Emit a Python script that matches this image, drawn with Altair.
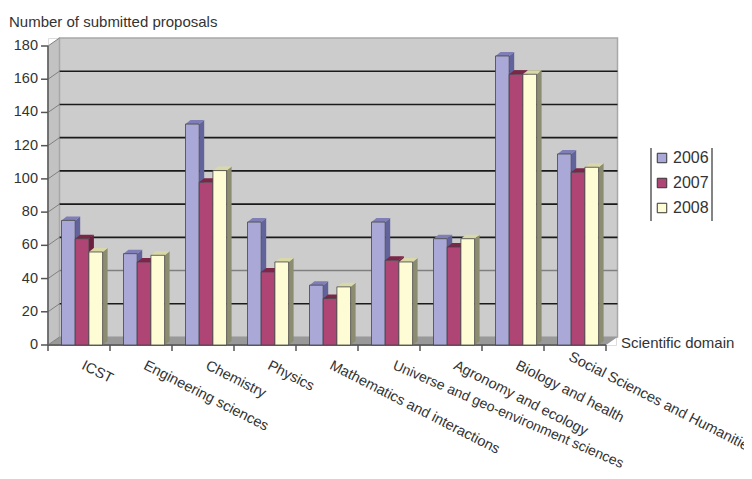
import altair as alt
import pandas as pd

categories = ["ICST", "Engineering sciences", "Chemistry", "Physics",
              "Mathematics and interactions", "Universe and geo-environment sciences",
              "Agronomy and ecology", "Biology and health", "Social Sciences and Humanities"]
years = ["2006", "2007", "2008"]
v2006 = [75, 55, 133, 74, 36, 74, 64, 174, 115]
v2007 = [64, 50, 98, 44, 28, 51, 59, 163, 104]
v2008 = [56, 54, 105, 50, 35, 50, 64, 163, 107]
series = {"2006": v2006, "2007": v2007, "2008": v2008}
front = ["#aaa8d6", "#ae4575", "#fdfcd4"]
side = ["#62639a", "#6b2040", "#8c8c70"]
top = ["#7f7eb6", "#7c2649", "#d9d8a8"]
y_ticks = list(range(0, 181, 20))

FONT = "Liberation Sans"
TXT = "#333333"
BAND_PX, UNIT_PX = 62.0, 299 / 180
W, H = 568, 307
n = len(categories)
xs = alt.Scale(domain=[0, W / BAND_PX], nice=False, zero=False, padding=0)
ys = alt.Scale(domain=[0, H / UNIT_PX], nice=False, zero=False, padding=0)
DXW, DYW = 11.5 / BAND_PX, 8 / UNIT_PX
DX, DY = 5 / BAND_PX, 4 / UNIT_PX
BAR = 13.7 / BAND_PX
START = 13.5 / BAND_PX


def X(f="x"):
    return alt.X(f"{f}:Q", scale=xs, axis=None)


def Y(f="y"):
    return alt.Y(f"{f}:Q", scale=ys, axis=None)


def area(df, color):
    return alt.Chart(df).mark_area(color=color, stroke=None, interpolate="linear").encode(
        x=X(), y=Y(), y2="y2:Q", detail="id:N")


def note(text, x, y):
    return alt.Chart(pd.DataFrame({"t": [text]})).mark_text(
        align="left", baseline="middle", font=FONT, fontSize=15, color=TXT).encode(
        x=alt.value(x), y=alt.value(y), text="t:N")


# walls and floor
left_wall = area(pd.DataFrame({"id": ["w", "w"], "x": [0, DXW], "y": [0, DYW],
                               "y2": [180, 180 + DYW]}), "#c2c2c2")
back_wall = alt.Chart(pd.DataFrame({"x": [DXW], "x2": [n + DXW], "y": [DYW], "y2": [180 + DYW]})).mark_rect(
    color="#cccccc", stroke="#a8a8a8", strokeWidth=1.5).encode(x=X(), x2="x2:Q", y=Y(), y2="y2:Q")
floor = area(pd.DataFrame({"id": ["f"] * 4, "x": [0, DXW, n, n + DXW], "y": [0, 0, 0, DYW],
                           "y2": [0, DYW, DYW, DYW]}), "#999999")

# gridlines
grid_vals = [v for v in y_ticks if 0 < v < 180]
grid_df = pd.DataFrame({"v": grid_vals, "y": [v + DYW for v in grid_vals], "x": DXW, "x2": n + DXW})
grid = alt.Chart(grid_df).mark_rule(strokeWidth=1.6).encode(
    x=X(), x2="x2:Q", y=Y(),
    color=alt.condition("datum.v == 40", alt.value("#808080"), alt.value("#1a1a1a")))
side_grid_df = pd.concat([pd.DataFrame({"v": y_ticks, "x": 0.0, "y": y_ticks}),
                          pd.DataFrame({"v": y_ticks, "x": DXW, "y": [v + DYW for v in y_ticks]})])
side_grid = alt.Chart(side_grid_df).mark_line(color="#808080", strokeWidth=1).encode(
    x=X(), y=Y(), detail="v:N")
axis_lines = alt.Chart(pd.DataFrame({"x": [0, 0], "x2": [0, n], "y": [0, 0], "y2": [180, 0]})).mark_rule(
    color="#666666", strokeWidth=1.8).encode(x=X(), x2="x2:Q", y=Y(), y2="y2:Q")

# ticks and tick labels
y_df = pd.DataFrame({"y": y_ticks})
y_tick_marks = alt.Chart(y_df).mark_rule(color="#555555", strokeWidth=1.5).encode(
    x=alt.value(-7), x2=alt.value(0), y=Y())
y_labels = alt.Chart(y_df).mark_text(align="right", baseline="middle", dx=0, font=FONT, fontSize=14.5,
                                     color=TXT).encode(x=alt.value(-10), y=Y(), text="y:Q")
x_tick_marks = alt.Chart(pd.DataFrame({"x": list(range(n + 1))})).mark_rule(color="#555555", strokeWidth=1.5).encode(
    x=X(), y=alt.value(H), y2=alt.value(H + 6))

# bars
bar_layers = []
for j, yr in enumerate(years):
    vals = series[yr]
    l = [i + START + j * BAR for i in range(n)]
    r = [a + BAR for a in l]
    front_df = pd.DataFrame({"cat": categories, "year": yr, "x": l, "x2": r, "y": vals, "y2": 0})
    side_rows, top_rows = [], []
    for i, v in enumerate(vals):
        side_rows += [(i, r[i], v, 0), (i, r[i] + DX, v + DY, DY)]
        top_rows += [(i, l[i], v, v), (i, l[i] + DX, v + DY, v),
                     (i, r[i], v + DY, v), (i, r[i] + DX, v + DY, v + DY)]
    cols = ["id", "x", "y", "y2"]
    bar_layers.append(area(pd.DataFrame(side_rows, columns=cols), side[j]))
    bar_layers.append(area(pd.DataFrame(top_rows, columns=cols), top[j]))
    bar_layers.append(
        alt.Chart(front_df).mark_rect(stroke="#444444", strokeWidth=0.8).encode(
            x=X(), x2="x2:Q", y=Y(), y2="y2:Q",
            color=alt.Color("year:N", scale=alt.Scale(domain=years, range=front),
                            legend=alt.Legend(orient="none", legendX=606, legendY=112, title=None,
                                              symbolType="square", symbolSize=90, symbolStrokeColor="#333333",
                                              symbolStrokeWidth=1, symbolOpacity=1, rowPadding=9,
                                              labelFont=FONT, labelFontSize=16, labelColor=TXT,
                                              labelOffset=3, padding=0))))

# category labels
lab_df = pd.DataFrame({"label": categories, "x": [i + 0.5 for i in range(n)]})


def cat_label(df, angle, dx, y, size=14.5):
    return alt.Chart(df).mark_text(angle=angle, align="left", baseline="middle", dx=dx, font=FONT,
                                   fontSize=size, color=TXT).encode(
        x=X(), y=alt.value(y), text="label:N")


labels = cat_label(lab_df[lab_df.index.isin([0, 1, 2, 3, 4, 6, 7])], 27, 4, 325)
universe_label = cat_label(lab_df[lab_df.index == 5], 23.5, 5, 325, 14)
last_label = cat_label(lab_df[lab_df.index == 8], 27, -6, 321)

# legend side rules
leg_df = pd.DataFrame({"x": [(651 - 48) / BAND_PX, (712 - 48) / BAND_PX]})
leg_rules = alt.Chart(leg_df).mark_rule(color="#777777", strokeWidth=1.8).encode(
    x=X(), y=alt.value(110), y2=alt.value(183))

chart = alt.layer(left_wall, back_wall, floor, grid, side_grid, axis_lines, y_tick_marks, y_labels,
                  x_tick_marks, *bar_layers, labels, universe_label, last_label, leg_rules,
                  note("Number of submitted proposals", -39, -16),
                  note("Scientific domain", 573, 305)).properties(
    width=W, height=H,
    padding={"left": 40, "top": 30, "right": 128, "bottom": 126},
    autosize=alt.AutoSizeParams(type="none"),
).configure_view(stroke=None, clip=False).configure(background="white")

chart.save("out.html", embed_options={"renderer": "svg", "actions": False})
